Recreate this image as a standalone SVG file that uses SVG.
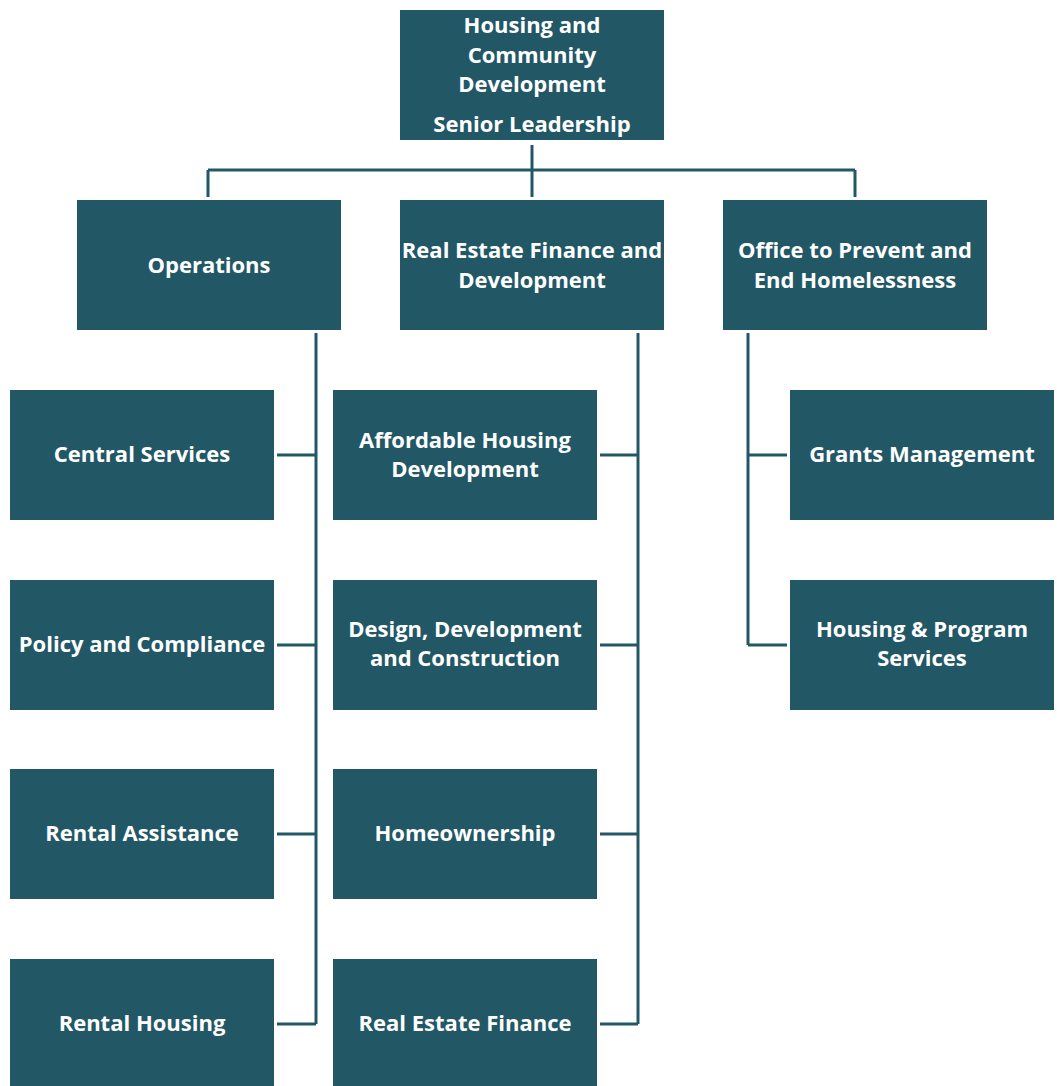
<svg xmlns="http://www.w3.org/2000/svg" width="1057" height="1086" viewBox="0 0 1057 1086">
<style>
.box{fill:#225866;}
.t{fill:#ffffff;font-family:"Open Sans","Noto Sans",sans-serif;font-weight:bold;font-size:22px;text-anchor:middle;dominant-baseline:central;}
.c{stroke:#225866;stroke-width:3;fill:none;}
</style>
<rect width="1057" height="1086" fill="#ffffff"/>
<g id="connectors">
<path class="c" d="M532 145V197M208 170H855M208 170V197M855 170V197"/>
<path class="c" d="M316 333V1024M277 455H316M277 645H316M277 834H316M277 1024H316"/>
<path class="c" d="M638 333V1024M600 455H638M600 645H638M600 834H638M600 1024H638"/>
<path class="c" d="M748 333V645M748 455H787M748 645H787"/>
</g>
<g id="n-top"><rect class="box" x="400" y="10" width="264" height="130"/>
<text class="t" x="532" y="24">Housing and</text><text class="t" x="532" y="54">Community</text><text class="t" x="532" y="83">Development</text><text class="t" x="532" y="123">Senior Leadership</text></g>
<g id="n-ops"><rect class="box" x="77" y="200" width="264" height="130"/><text class="t" x="209" y="264">Operations</text></g>
<g id="n-refd"><rect class="box" x="400" y="200" width="264" height="130"/><text class="t" x="532" y="249">Real Estate Finance and</text><text class="t" x="532" y="279">Development</text></g>
<g id="n-opeh"><rect class="box" x="723" y="200" width="264" height="130"/><text class="t" x="855" y="249">Office to Prevent and</text><text class="t" x="855" y="279">End Homelessness</text></g>
<g id="n-cs"><rect class="box" x="10" y="390" width="264" height="130"/><text class="t" x="142" y="453">Central Services</text></g>
<g id="n-pc"><rect class="box" x="10" y="580" width="264" height="130"/><text class="t" x="142" y="643">Policy and Compliance</text></g>
<g id="n-ra"><rect class="box" x="10" y="769" width="264" height="130"/><text class="t" x="142" y="832">Rental Assistance</text></g>
<g id="n-rh"><rect class="box" x="10" y="959" width="264" height="130"/><text class="t" x="142" y="1022">Rental Housing</text></g>
<g id="n-ahd"><rect class="box" x="333" y="390" width="264" height="130"/><text class="t" x="465" y="439">Affordable Housing</text><text class="t" x="465" y="468">Development</text></g>
<g id="n-ddc"><rect class="box" x="333" y="580" width="264" height="130"/><text class="t" x="465" y="628">Design, Development</text><text class="t" x="465" y="657">and Construction</text></g>
<g id="n-ho"><rect class="box" x="333" y="769" width="264" height="130"/><text class="t" x="465" y="832">Homeownership</text></g>
<g id="n-ref"><rect class="box" x="333" y="959" width="264" height="130"/><text class="t" x="465" y="1022">Real Estate Finance</text></g>
<g id="n-gm"><rect class="box" x="790" y="390" width="264" height="130"/><text class="t" x="922" y="453">Grants Management</text></g>
<g id="n-hps"><rect class="box" x="790" y="580" width="264" height="130"/><text class="t" x="922" y="628">Housing &amp; Program</text><text class="t" x="922" y="657">Services</text></g>
</svg>
